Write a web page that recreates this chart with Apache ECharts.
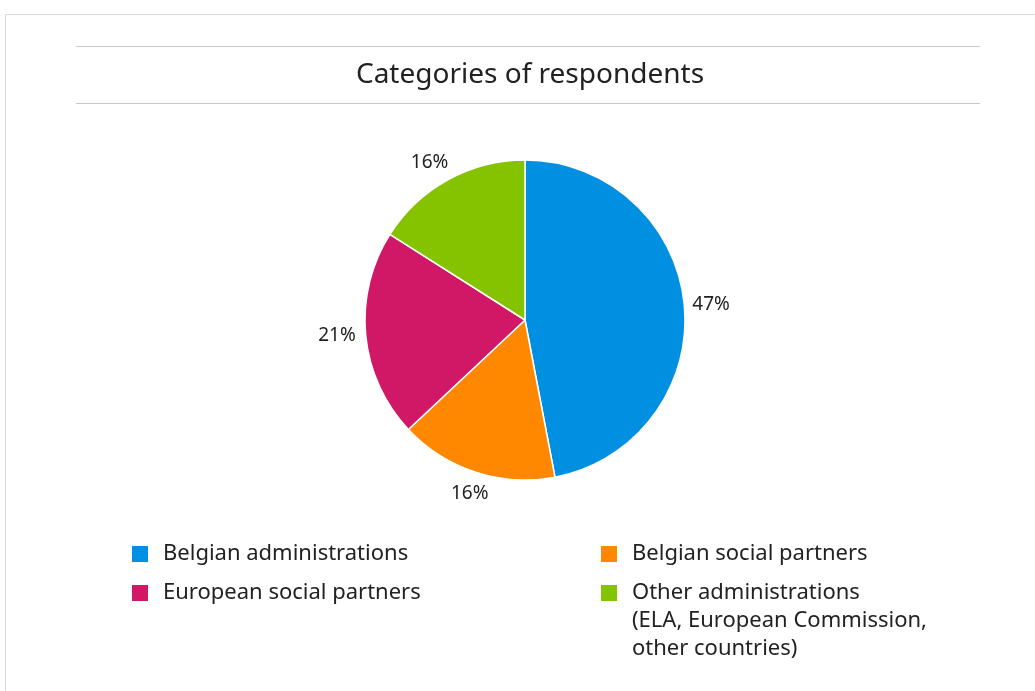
<!DOCTYPE html>
<html>
<head>
<meta charset="utf-8">
<script src="https://cdn.jsdelivr.net/npm/echarts@6/dist/echarts.min.js"></script>
<style>
  html, body { margin: 0; padding: 0; background: #fff; }
  /* 外框：只有上边和左边 */
  .frame {
    position: absolute;
    left: 5px; top: 14px; right: 0; bottom: 0;
    border-top: 1px solid #d9d9d9;
    border-left: 1px solid #d9d9d9;
  }
  #chart { position: absolute; left: 0; top: 0; width: 1035px; height: 691px; }
</style>
</head>
<body>
<div class="frame"></div>
<div id="chart"></div>
<script>
  var categories = [
    'Belgian administrations',
    'Belgian social partners',
    'European social partners',
    'Other administrations (ELA, European Commission, other countries)'
  ];
  var values = [47, 16, 21, 16];
  var colors = ['#008FE1', '#FF8800', '#D01866', '#85C200'];

  // 图例里的换行版本（前面两个空行让第一行和色块对齐）
  var legendLabels = {
    'Other administrations (ELA, European Commission, other countries)':
      '\n\nOther administrations\n(ELA, European Commission,\nother countries)'
  };
  // 百分比标签离饼的距离，逐块微调
  var labelTweak = [
    { length: 3, length2: 0 },
    { length: 23, length2: -25 },
    { length: 5, length2: 0 },
    { length: 20, length2: -15 }
  ];

  var chart = echarts.init(document.getElementById('chart'));
  var font = '"Noto Sans", sans-serif';

  var pieData = categories.map(function (name, i) {
    return {
      name: name,
      value: values[i],
      itemStyle: { color: colors[i] },
      labelLine: { show: false, length: labelTweak[i].length, length2: labelTweak[i].length2 }
    };
  });

  var legendText = {
    color: '#222',
    fontSize: 22,
    fontFamily: font,
    lineHeight: 18,
    padding: [0, 0, 0, 9]
  };

  var option = {
    animation: false,
    title: {
      text: 'Categories of respondents',
      left: 525,
      textAlign: 'center',
      top: 56,
      textStyle: { fontFamily: font, fontSize: 28, fontWeight: 'normal', color: '#222' }
    },
    graphic: [
      { type: 'line', shape: { x1: 76, y1: 46.5, x2: 980, y2: 46.5 }, style: { stroke: '#c8c8c8', lineWidth: 1 } },
      { type: 'line', shape: { x1: 76, y1: 103.5, x2: 980, y2: 103.5 }, style: { stroke: '#c8c8c8', lineWidth: 1 } }
    ],
    legend: [
      {
        data: [categories[0], categories[2]],
        orient: 'vertical',
        left: 130, top: 543,
        padding: 0,
        itemWidth: 18, itemHeight: 18, itemGap: 17,
        icon: 'rect',
        textStyle: legendText
      },
      {
        data: [categories[1]],
        left: 599, top: 543,
        padding: 0,
        itemWidth: 18, itemHeight: 18,
        icon: 'rect',
        textStyle: legendText
      },
      {
        data: [categories[3]],
        left: 599, top: 523,
        padding: 0,
        itemWidth: 18, itemHeight: 18,
        icon: 'rect',
        formatter: function (name) { return legendLabels[name] || name; },
        textStyle: {
          color: '#222', fontSize: 22, fontFamily: font,
          lineHeight: 28,
          padding: [0, 0, 0, 9]
        }
      }
    ],
    series: [{
      type: 'pie',
      center: [525, 320],
      radius: 160,
      startAngle: 90,
      clockwise: true,
      avoidLabelOverlap: false,
      data: pieData,
      itemStyle: { borderColor: '#fff', borderWidth: 1.5 },
      label: {
        show: true,
        position: 'outside',
        formatter: '{c}%',
        color: '#222',
        fontSize: 19,
        fontFamily: font
      },
      emphasis: { disabled: true }
    }]
  };
  chart.setOption(option);
</script>
</body>
</html>
